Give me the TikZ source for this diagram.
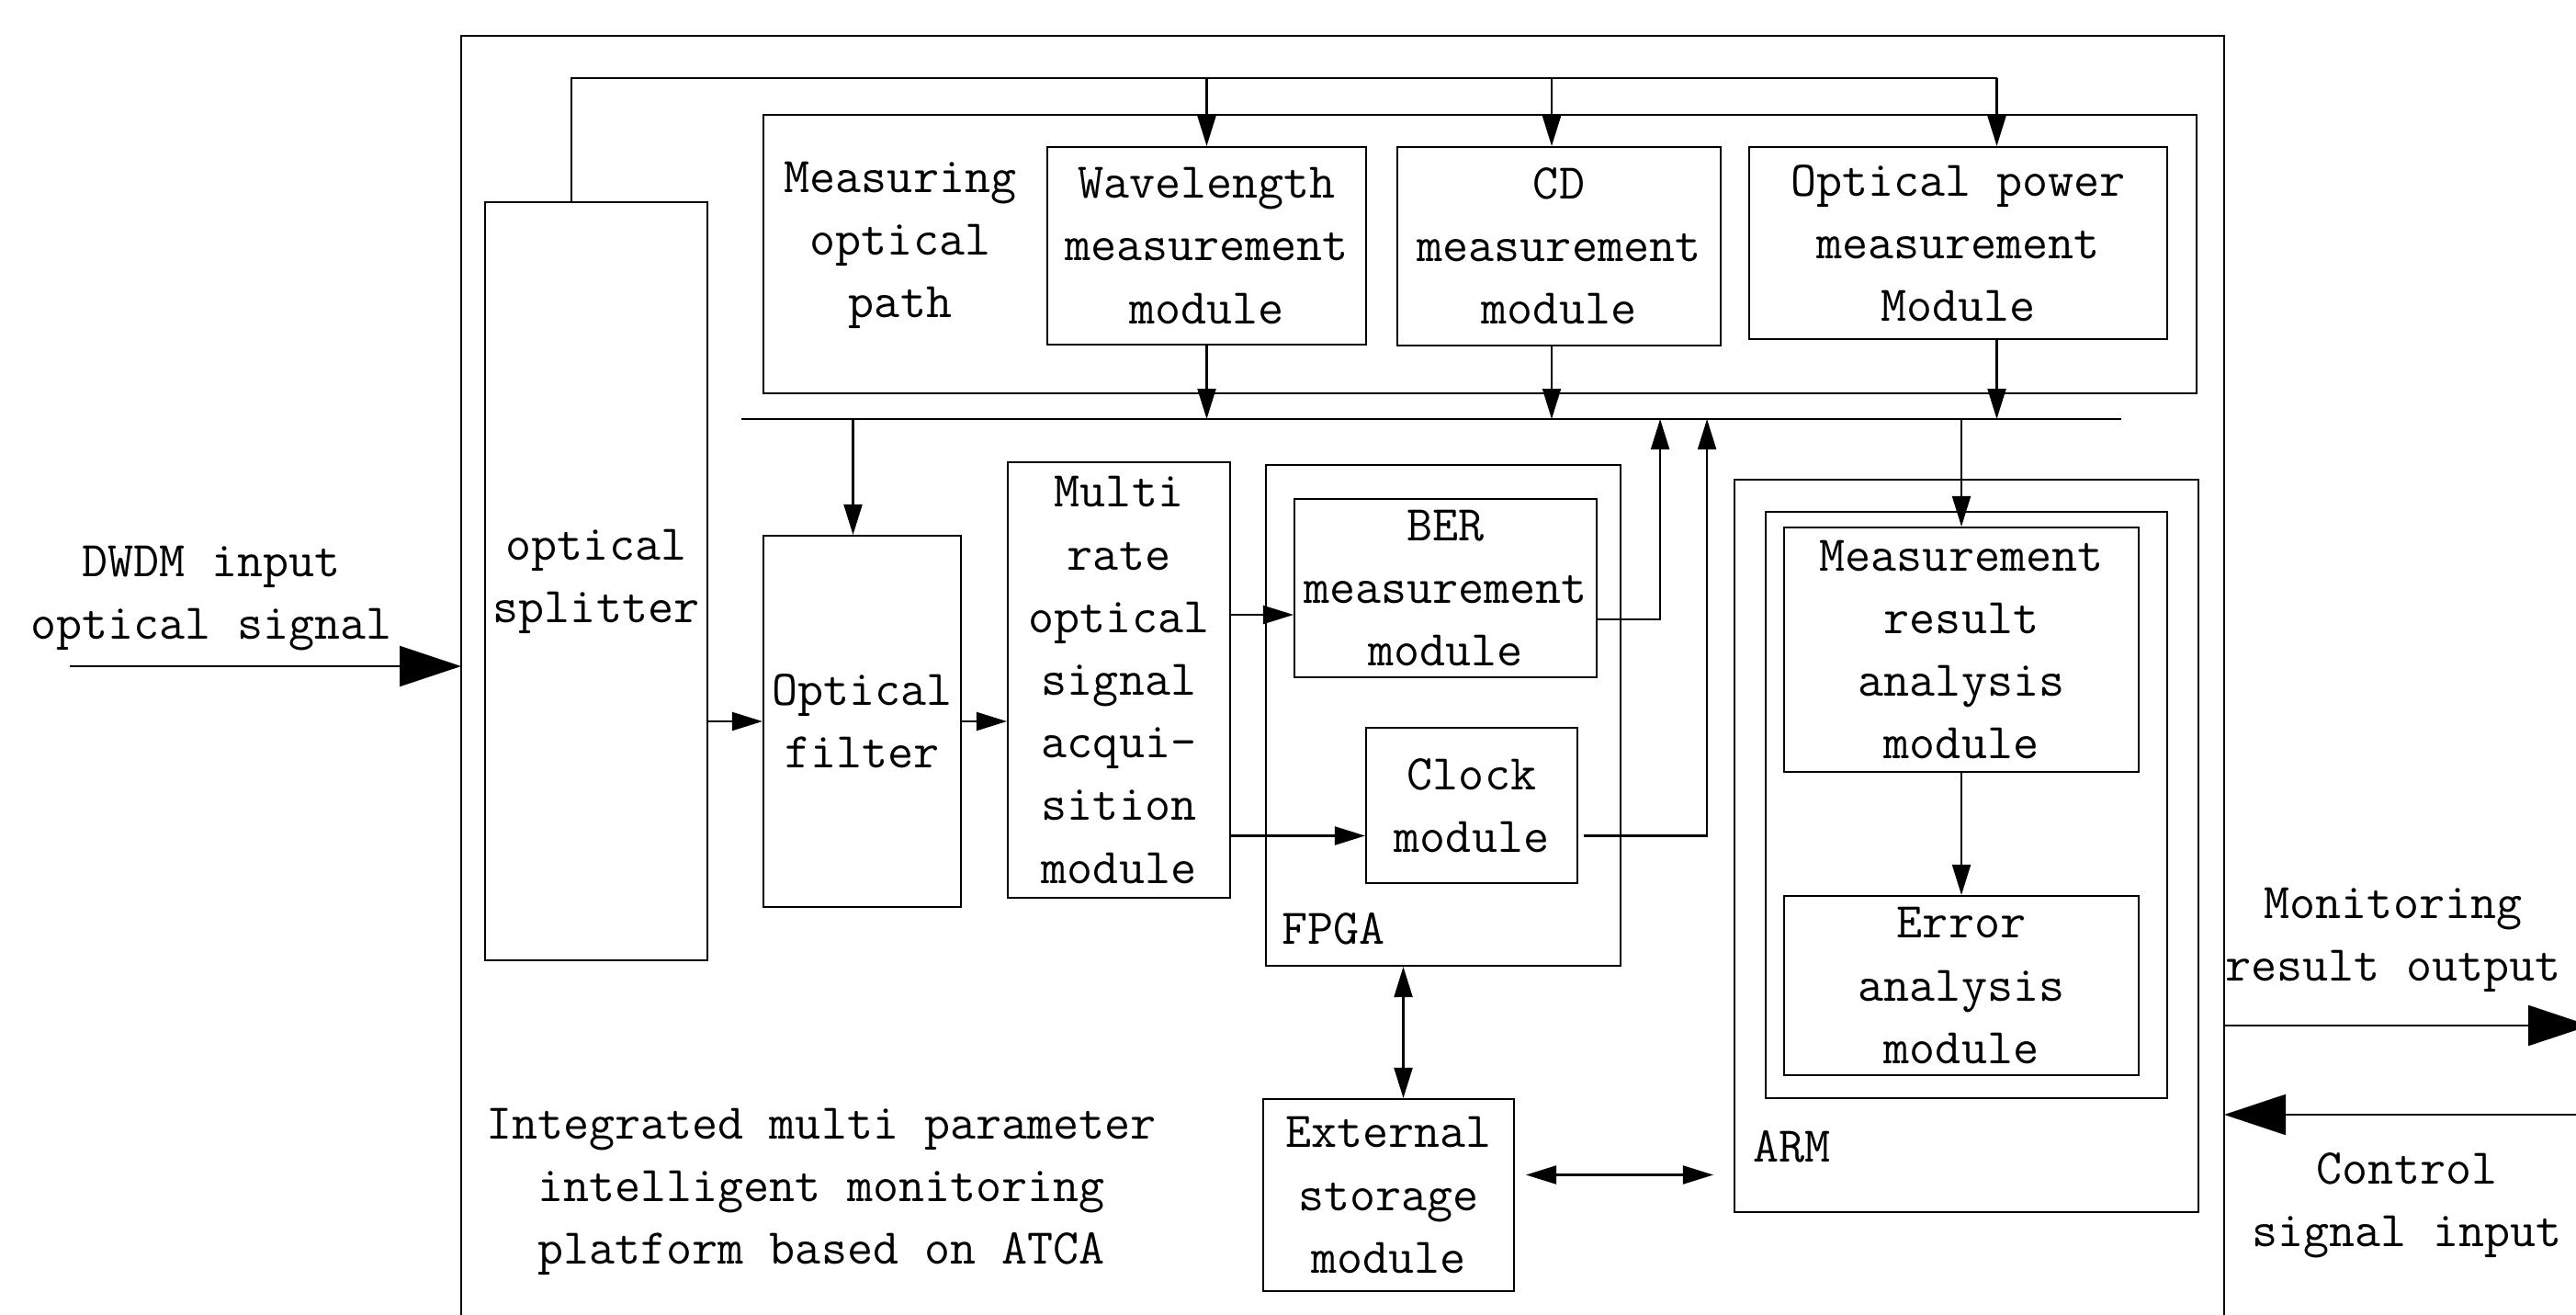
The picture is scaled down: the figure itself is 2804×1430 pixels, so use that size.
\documentclass[tikz,border=0pt]{standalone}
\usepackage{fontspec}
\usetikzlibrary{arrows.meta}

\begin{document}
\begin{tikzpicture}[x=0.1mm,y=-0.1mm,
    font=\ttfamily\fontsize{15.5}{19.4}\selectfont,
    line width=0.6pt,
    >={Triangle[length=3.3mm,width=2mm]},
    blk/.style={draw,align=center,inner sep=1pt},
    grp/.style={draw,inner sep=0pt},
    txt/.style={align=center,inner sep=1pt},
    bigarrow/.style={-{Triangle[length=6.7mm,width=4.4mm]}}]
  \useasboundingbox (0,0) rectangle (2804,1430);

  % platform frame, open at the bottom
  \coordinate (fTL) at (502,39);
  \coordinate (fTR) at (2421,39);
  \draw (fTL |- 0,1450) -- (fTL) -- (fTR) -- (fTR |- 0,1450);

  % measuring optical path
  \node[grp,minimum width=15.60cm,minimum height=3.03cm] (mpath) at (1611,276.5) {};
  \node[txt] (mlbl) at (980,267) {Measuring\\optical\\path};
  \node[blk,minimum width=3.47cm,minimum height=2.15cm] (wl) at (1313.5,267.5) {Wavelength\\measurement\\module};
  \node[blk,minimum width=3.52cm,minimum height=2.16cm] (cd) at (1697,268) {CD\\measurement\\module};
  \node[blk,minimum width=4.55cm,minimum height=2.09cm] (pow) at (2131.5,264.5) {Optical power\\measurement\\Module};

  \node[blk,minimum width=2.42cm,minimum height=8.25cm] (split) at (649,632.5) {optical\\splitter};
  \node[blk,minimum width=2.15cm,minimum height=4.04cm] (filt) at (938.5,785) {Optical\\filter};
  \node[blk,minimum width=2.42cm,minimum height=4.74cm] (multi) at (1218,740) {Multi\\rate\\optical\\signal\\acqui-\\sition\\module};

  % FPGA
  \node[grp,minimum width=3.86cm,minimum height=5.45cm] (fpga) at (1571,778.5) {};
  \node[txt,anchor=west] (fpgalbl) at ([shift={(1.4mm,4.1mm)}]fpga.south west) {FPGA};
  \node[blk,minimum width=3.29cm,minimum height=1.94cm] (ber) at (1573.5,640) {BER\\measurement\\module};
  \node[blk,minimum width=2.30cm,minimum height=1.69cm] (clk) at (1602,876.5) {Clock\\module};

  % ARM
  \node[grp,minimum width=5.05cm,minimum height=7.97cm] (arm) at (2140.5,920.5) {};
  \node[grp,minimum width=4.37cm,minimum height=6.38cm] (armin) at (2140.5,876) {};
  \node[txt,anchor=west] (armlbl) at ([shift={(1.7mm,7.2mm)}]arm.south west) {ARM};
  \node[blk,minimum width=3.86cm,minimum height=2.66cm] (res) at (2135,707) {Measurement\\result\\analysis\\module};
  \node[blk,minimum width=3.86cm,minimum height=1.95cm] (err) at (2135,1072.5) {Error\\analysis\\module};

  \node[blk,minimum width=2.73cm,minimum height=2.09cm] (ext) at (1511.5,1300.5) {External\\storage\\module};

  \node[txt] (title) at (894,1297) {Integrated multi parameter\\intelligent monitoring\\platform based on ATCA};

  % feedback line from the splitter and the bus
  \coordinate (top) at (0,85);
  \coordinate (busL) at (807,456);
  \coordinate (busR) at (2309,456);
  \draw ([xshift=-2.7mm]split.north) |- ([xshift=4.2mm]pow.north |- top);
  \draw[->] (wl.north |- top) -- (wl.north);
  \draw[->] ([xshift=-0.8mm]cd.north |- top) -- ([xshift=-0.8mm]cd.north);
  \draw[->] ([xshift=4.2mm]pow.north |- top) -- ([xshift=4.2mm]pow.north);
  \draw (busL) -- (busR);
  \draw[->] (wl.south) -- (wl.south |- busL);
  \draw[->] ([xshift=-0.8mm]cd.south) -- ([xshift=-0.8mm]cd.south |- busL);
  \draw[->] ([xshift=4.2mm]pow.south) -- ([xshift=4.2mm]pow.south |- busL);

  % signal path
  \draw[->] ([xshift=-1mm]filt.north |- busL) -- ([xshift=-1mm]filt.north);
  \draw[->] (filt.west -| split.east) -- (filt.west);
  \draw[->] (filt.east) -- (filt.east -| multi.west);
  \draw[->] ([yshift=-2.9mm]ber.west -| multi.east) -- ([yshift=-2.9mm]ber.west);
  \draw[->] ([yshift=-3.3mm]clk.west -| multi.east) -- ([yshift=-3.3mm]clk.west);
  \draw[->] ([yshift=-3.4mm]ber.east) -| ([xshift=4.2mm]fpga.north east |- busL);
  \draw[->] ([shift={(0.6mm,-3.3mm)}]clk.east) -| ([xshift=9.3mm]fpga.north east |- busL);
  \draw[->] (res.north |- busL) -- (res.north);
  \draw[->] (res) -- (err);
  \draw[<->] ([xshift=1.6mm]ext.north |- fpga.south) -- ([xshift=1.6mm]ext.north);
  \draw[<->,shorten <=1.2mm,shorten >=2.2mm] ([yshift=2.2mm]ext.east) -- ([yshift=2.2mm]ext.east -| arm.west);

  % inputs and outputs of the platform
  \coordinate (in) at (76,725);
  \coordinate (out) at (2819,1116);
  \coordinate (ctl) at (2804,1213);
  \draw[bigarrow] (in) -- (in -| fTL);
  \draw[bigarrow] (out -| fTR) -- (out);
  \draw[bigarrow] (ctl) -- (ctl -| fTR);
  \node[txt] (inlbl) at (230,651) {DWDM input\\optical signal};
  \node[txt] (outlbl) at (2605,1023) {Monitoring\\result output};
  \node[txt] (ctllbl) at (2620,1312) {Control\\signal input};
\end{tikzpicture}
\end{document}
